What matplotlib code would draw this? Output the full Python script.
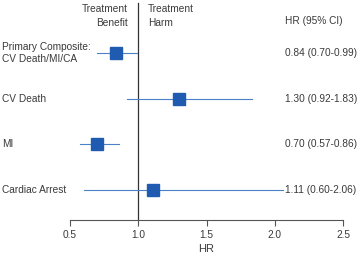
import matplotlib
matplotlib.use("Agg")
from matplotlib import pyplot as plt

labels = ["Primary Composite:\nCV Death/MI/CA", "CV Death", "MI", "Cardiac Arrest"]
hr = [0.84, 1.30, 0.70, 1.11]
lo = [0.70, 0.92, 0.57, 0.60]
hi = [0.99, 1.83, 0.86, 2.06]
ci_text = ["0.84 (0.70-0.99)", "1.30 (0.92-1.83)", "0.70 (0.57-0.86)", "1.11 (0.60-2.06)"]
ticks = [0.5, 1.0, 1.5, 2.0, 2.5]

plt.rcParams['font.family'] = ['Liberation Sans', 'DejaVu Sans']
txt = '#3a3a3a'
fs = 7.3

W, H = 359, 256
fig = plt.figure(figsize=(W / 100, H / 100), dpi=100)
ax = fig.add_axes([70 / W, 36 / H, 273 / W, 220 / H])

rows = list(range(len(labels)))
for y, h, l, u in zip(rows, hr, lo, hi):
    ax.plot([l, u], [y, y], color='#4a80c8', lw=0.8, zorder=2)
    ax.plot(h, y, marker='s', ms=9, color='#1f5bb0', mec='#1f5bb0', zorder=3)

ax.axvline(1.0, ymin=0, ymax=0.985, color='#333333', lw=0.9, zorder=1)

ax.set_xlim(0.5, 2.5)
ax.set_ylim(3.657, -1.16)
ax.set_xticks(ticks)
ax.set_xticklabels([f"{t:.1f}" for t in ticks], fontsize=fs, color=txt)
ax.tick_params(axis='x', length=4, width=0.8, color='#555555', pad=3)
ax.set_yticks([])
for s in ['top', 'right', 'left']:
    ax.spines[s].set_visible(False)
ax.spines['bottom'].set_color('#555555')
ax.spines['bottom'].set_linewidth(0.8)
ax.set_xlabel("HR", fontsize=8, color=txt, labelpad=3)

# pixel -> data x
def px(p):
    return 0.5 + (p - 70) / 273 * 2

for y, lab, ct in zip(rows, labels, ci_text):
    ax.text(px(2), y, lab, fontsize=fs, color=txt,
            ha='left', va='center', linespacing=1.3, clip_on=False)
    ax.text(px(285), y, ct, fontsize=fs, color=txt,
            ha='left', va='center', clip_on=False)

# header
ax.text(px(285), -0.69, "HR (95% CI)", fontsize=fs, color=txt,
        ha='left', va='center', clip_on=False)
ax.text(px(128), -0.82, "Treatment\nBenefit", fontsize=fs, color=txt,
        ha='right', va='center', multialignment='right', linespacing=1.5, clip_on=False)
ax.text(px(148), -0.82, "Treatment\nHarm", fontsize=fs, color=txt,
        ha='left', va='center', linespacing=1.5, clip_on=False)

fig.savefig("out.png", dpi=100)
